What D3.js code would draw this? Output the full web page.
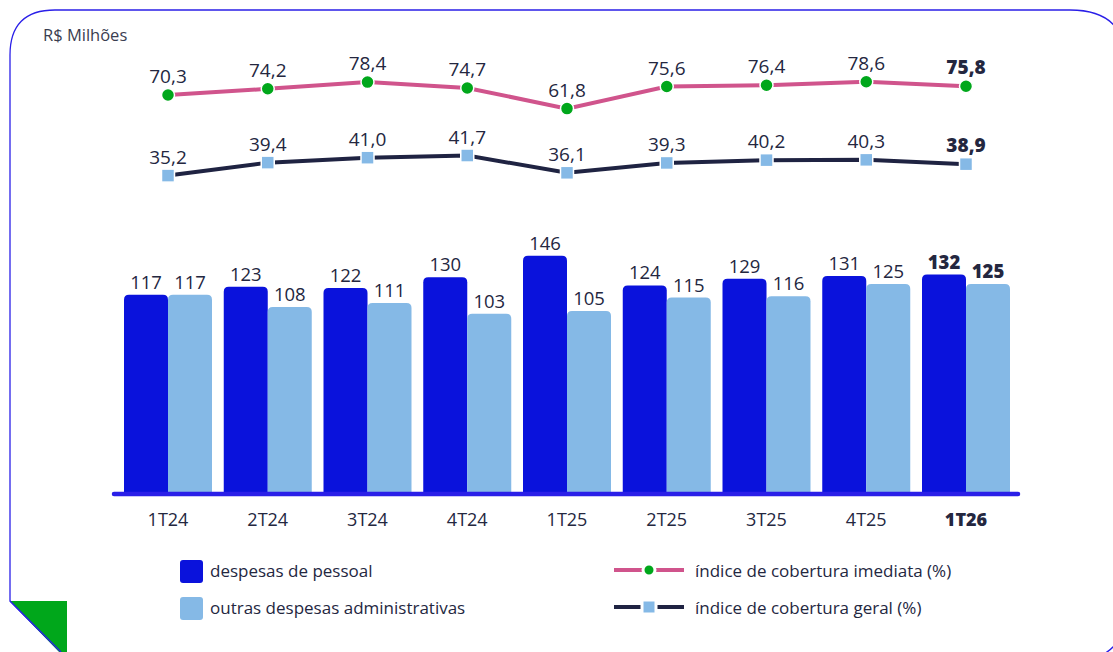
<!DOCTYPE html>
<html>
<head>
<meta charset="utf-8">
<script src="https://cdn.jsdelivr.net/npm/d3@7"></script>
<style>
  html, body { margin: 0; padding: 0; background: #fff; }
  svg text { font-family: "Open Sans", sans-serif; fill: #24273f; }
</style>
</head>
<body>
<div id="chart"></div>
<script>
//Dados do gráfico
const categorias = ['1T24', '2T24', '3T24', '4T24', '1T25', '2T25', '3T25', '4T25', '1T26'];
const despesasPessoal = [117, 123, 122, 130, 146, 124, 129, 131, 132];
const outrasDespesas = [117, 108, 111, 103, 105, 115, 116, 125, 125];
const coberturaImediata = [70.3, 74.2, 78.4, 74.7, 61.8, 75.6, 76.4, 78.6, 75.8];
const coberturaGeral = [35.2, 39.4, 41.0, 41.7, 36.1, 39.3, 40.2, 40.3, 38.9];
const series = ['despesas de pessoal', 'outras despesas administrativas'];
const seriesLinhas = ['índice de cobertura imediata (%)', 'índice de cobertura geral (%)'];

//Cores
const COR_PESSOAL = '#0a12dc';
const COR_OUTRAS = '#85b9e6';
const COR_IMEDIATA = '#d0548c';
const COR_GERAL = '#1f2342';
const COR_PONTO = '#00a71b';
const COR_MOLDURA = '#2a1fe8';

const W = 1113, H = 652;
const fmt = v => v.toFixed(1).replace('.', ',');
const ultimo = categorias.length - 1;

let svg = d3.select('#chart').append('svg')
    .attr('width', W)
    .attr('height', H);

//Moldura
svg.append('path')
    .attr('d', 'M10,601 L10,55 Q10,10 55,10 L1070,10 Q1125,10 1125,60 L1125,610 Q1125,660 1075,660 L68,660 Z')
    .attr('fill', 'none')
    .attr('stroke', COR_MOLDURA)
    .attr('stroke-width', 1.3);
svg.append('path')
    .attr('d', 'M10,601 L67,601 L67,660 Z')
    .attr('fill', COR_PONTO);
svg.append('line')
    .attr('x1', 10).attr('y1', 601).attr('x2', 61).attr('y2', 652)
    .attr('stroke', COR_MOLDURA).attr('stroke-width', 1.3);

svg.append('text')
    .attr('x', 43).attr('y', 41)
    .style('font-size', '16.5px')
    .style('fill', '#3a3d50')
    .text('R$ Milhões');

//Escalas
let x = d3.scalePoint()
    .domain(categorias)
    .range([168, 966]);

let xSub = d3.scaleBand()
    .domain(series)
    .range([-44, 44])
    .padding(0);

let y = d3.scaleLinear()
    .domain([-30.5, 150])
    .range([494, 250.3]);

let yImediata = d3.scaleLinear()
    .domain([60, 80])
    .range([111.5, 79.5]);

let yGeral = d3.scaleLinear()
    .domain([34, 42])
    .range([179.3, 154.6]);

//Barras
function barraArredondada(x0, w, y0, y1, r) {
    return 'M' + x0 + ',' + y1 +
        ' L' + x0 + ',' + (y0 + r) +
        ' Q' + x0 + ',' + y0 + ' ' + (x0 + r) + ',' + y0 +
        ' L' + (x0 + w - r) + ',' + y0 +
        ' Q' + (x0 + w) + ',' + y0 + ' ' + (x0 + w) + ',' + (y0 + r) +
        ' L' + (x0 + w) + ',' + y1 + ' Z';
}

let dadosBarras = [];
categorias.forEach(function(c, i) {
    dadosBarras.push({ cat: c, serie: series[0], valor: despesasPessoal[i], i: i });
    dadosBarras.push({ cat: c, serie: series[1], valor: outrasDespesas[i], i: i });
});

svg.selectAll('.barra')
    .data(dadosBarras)
    .enter()
    .append('path')
    .attr('class', 'barra')
    .attr('d', function(d) {
        return barraArredondada(x(d.cat) + xSub(d.serie), xSub.bandwidth(), y(d.valor), y(-30.5), 5);
    })
    .attr('fill', function(d) { return d.serie == series[0] ? COR_PESSOAL : COR_OUTRAS; });

svg.selectAll('.rotulo-barra')
    .data(dadosBarras)
    .enter()
    .append('text')
    .attr('class', 'rotulo-barra')
    .attr('x', function(d) { return x(d.cat) + xSub(d.serie) + xSub.bandwidth() / 2; })
    .attr('y', function(d) { return y(d.valor) - 6; })
    .attr('text-anchor', 'middle')
    .style('font-size', '18.5px')
    .style('font-weight', function(d) { return d.i == ultimo ? 800 : 400; })
    .text(function(d) { return d.valor; });

//Eixo
svg.append('line')
    .attr('x1', 114).attr('x2', 1018)
    .attr('y1', y(-30.5)).attr('y2', y(-30.5))
    .attr('stroke', COR_MOLDURA)
    .attr('stroke-width', 4.5)
    .attr('stroke-linecap', 'round');

svg.append('g')
    .selectAll('text')
    .data(categorias)
    .enter()
    .append('text')
    .attr('x', function(d) { return x(d); })
    .attr('y', 526)
    .attr('text-anchor', 'middle')
    .style('font-size', '18px')
    .style('font-weight', function(d, i) { return i == ultimo ? 800 : 400; })
    .text(function(d) { return d; });

//Linhas
function desenhaLinha(valores, escala, cor, marcador) {
    let pontos = valores.map(function(v, i) { return { cat: categorias[i], valor: v, i: i }; });
    let linha = d3.line()
        .x(function(d) { return x(d.cat); })
        .y(function(d) { return escala(d.valor); });

    svg.append('path')
        .datum(pontos)
        .attr('d', linha)
        .attr('fill', 'none')
        .attr('stroke', cor)
        .attr('stroke-width', 4);

    if (marcador == 'circulo') {
        svg.selectAll(null)
            .data(pontos)
            .enter()
            .append('circle')
            .attr('cx', function(d) { return x(d.cat); })
            .attr('cy', function(d) { return escala(d.valor); })
            .attr('r', 6.5)
            .attr('fill', COR_PONTO)
            .attr('stroke', '#fff')
            .attr('stroke-width', 1.5);
    } else {
        svg.selectAll(null)
            .data(pontos)
            .enter()
            .append('rect')
            .attr('x', function(d) { return x(d.cat) - 6.5; })
            .attr('y', function(d) { return escala(d.valor) - 6.5; })
            .attr('width', 13)
            .attr('height', 13)
            .attr('fill', COR_OUTRAS)
            .attr('stroke', '#fff')
            .attr('stroke-width', 1.5);
    }

    svg.selectAll(null)
        .data(pontos)
        .enter()
        .append('text')
        .attr('x', function(d) { return x(d.cat); })
        .attr('y', function(d) { return escala(d.valor) - 12; })
        .attr('text-anchor', 'middle')
        .style('font-size', '19px')
        .style('font-weight', function(d) { return d.i == ultimo ? 800 : 400; })
        .text(function(d) { return fmt(d.valor); });
}

desenhaLinha(coberturaImediata, yImediata, COR_IMEDIATA, 'circulo');
desenhaLinha(coberturaGeral, yGeral, COR_GERAL, 'quadrado');

//Legenda
let legenda = svg.append('g');
[COR_PESSOAL, COR_OUTRAS].forEach(function(cor, i) {
    legenda.append('rect')
        .attr('x', 180).attr('y', 560 + i * 37)
        .attr('width', 23).attr('height', 23)
        .attr('rx', 3)
        .attr('fill', cor);
    legenda.append('text')
        .attr('x', 210).attr('y', 577 + i * 37)
        .style('font-size', '17px')
        .text(series[i]);
});

[[COR_IMEDIATA, 'circulo'], [COR_GERAL, 'quadrado']].forEach(function(item, i) {
    let cy = 570 + i * 37;
    legenda.append('line')
        .attr('x1', 614).attr('x2', 684)
        .attr('y1', cy).attr('y2', cy)
        .attr('stroke', item[0]).attr('stroke-width', 4);
    if (item[1] == 'circulo') {
        legenda.append('circle')
            .attr('cx', 649).attr('cy', cy).attr('r', 6)
            .attr('fill', COR_PONTO)
            .attr('stroke', '#fff').attr('stroke-width', 3);
    } else {
        legenda.append('rect')
            .attr('x', 642).attr('y', cy - 7)
            .attr('width', 14).attr('height', 14)
            .attr('fill', COR_OUTRAS)
            .attr('stroke', '#fff').attr('stroke-width', 3);
    }
    legenda.append('text')
        .attr('x', 695).attr('y', cy + 7)
        .style('font-size', '17px')
        .text(seriesLinhas[i]);
});
</script>
</body>
</html>
